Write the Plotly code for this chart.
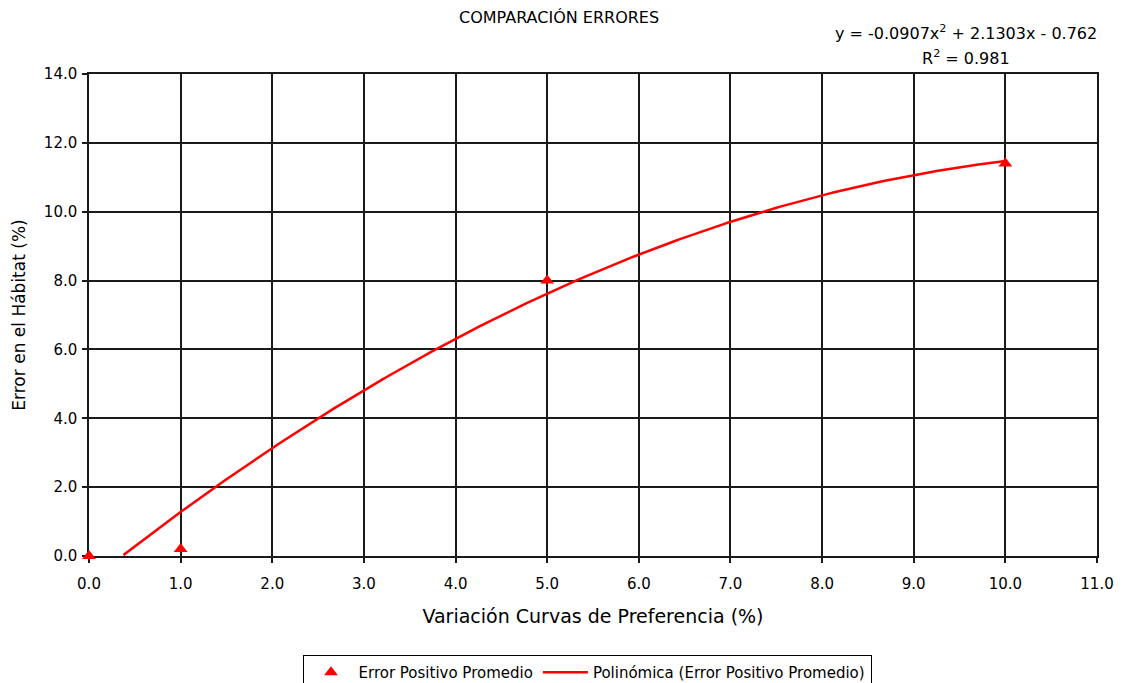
import numpy as np
import plotly.graph_objects as go

# Measured points
variacion = [0.0, 1.0, 5.0, 10.0]
error_pos = [0.0, 0.2, 8.0, 11.4]

# Second-order trendline coefficients (as reported on the chart)
coef_a = -0.0907
coef_b = 2.1303
coef_c = -0.762
r2 = 0.981

x_fit = np.linspace(min(variacion), max(variacion), 400)
y_fit = coef_a * x_fit**2 + coef_b * x_fit + coef_c
mask = y_fit >= 0
x_fit, y_fit = x_fit[mask], y_fit[mask]

font_family = "DejaVu Sans, Verdana, sans-serif"

# Plot-area geometry in pixels
M_L, M_R, M_T, M_B = 89, 26, 74, 127
W, H = 1123, 683
plot_w = W - M_L - M_R
plot_h = H - M_T - M_B


def px_to_paper(px, py):
    return (px - M_L) / plot_w, (H - M_B - py) / plot_h


fig = go.Figure()
fig.add_trace(go.Scatter(
    x=variacion, y=error_pos, mode="markers",
    name="Error Positivo Promedio",
    marker=dict(symbol="triangle-up", size=12, color="#ff0000"),
    cliponaxis=False,
))
fig.add_trace(go.Scatter(
    x=x_fit, y=y_fit, mode="lines",
    name="Polinómica (Error Positivo Promedio)",
    line=dict(color="#ff0000", width=2.5),
))

lx, ly = px_to_paper(587, 655)
fig.update_layout(
    width=W, height=H,
    margin=dict(l=M_L, r=M_R, t=M_T, b=M_B, autoexpand=False),
    paper_bgcolor="white", plot_bgcolor="white",
    font=dict(family=font_family, size=14, color="#000"),
    showlegend=True,
    legend=dict(
        orientation="h", x=lx, xanchor="center", y=ly, yanchor="top",
        bordercolor="#000", borderwidth=1, bgcolor="white",
        font=dict(size=15), traceorder="normal", itemwidth=45,
    ),
)

tx, ty = px_to_paper(559, 18)
ex, ey = px_to_paper(966, 32)
rx, ry = px_to_paper(966, 58)
ann_common = dict(xref="paper", yref="paper", showarrow=False,
                  xanchor="center", yanchor="middle")
fig.add_annotation(text="COMPARACIÓN ERRORES", x=tx, y=ty,
                   font=dict(size=16), **ann_common)
fig.add_annotation(text=f"y = {coef_a}x<sup>2</sup> + {coef_b}x - {abs(coef_c)}",
                   x=ex, y=ey, font=dict(size=16), **ann_common)
fig.add_annotation(text=f"R<sup>2</sup> = {r2}", x=rx, y=ry,
                   font=dict(size=16), **ann_common)

axis_common = dict(
    showgrid=True, gridcolor="#1a1a1a", gridwidth=1.5,
    showline=True, linecolor="#1a1a1a", linewidth=1.5, mirror=True,
    ticks="outside", ticklen=5, tickcolor="#1a1a1a", tickwidth=1.5,
    zeroline=False, tickformat=".1f", tickfont=dict(size=15),
    layer="below traces",
)
fig.update_xaxes(range=[0, 11], dtick=1, tick0=0, ticklabelstandoff=8,
                 title=dict(text="Variación Curvas de Preferencia (%)", font=dict(size=19), standoff=18),
                 **axis_common)
fig.update_yaxes(range=[0, 14], dtick=2, tick0=0, ticklabelstandoff=2,
                 title=dict(text="Error en el Hábitat (%)", font=dict(size=17), standoff=14),
                 **axis_common)

fig.write_html("out.html")
